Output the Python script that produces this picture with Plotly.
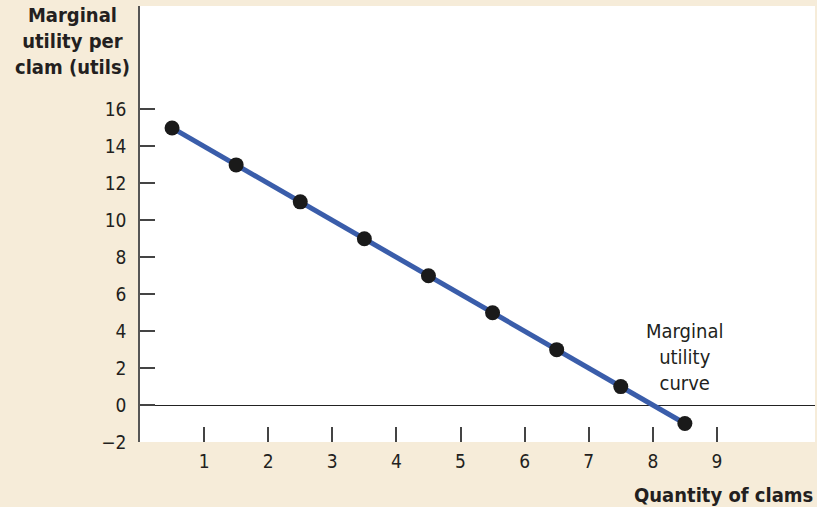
import plotly.graph_objects as go

quantity = [0.5, 1.5, 2.5, 3.5, 4.5, 5.5, 6.5, 7.5, 8.5]
marginal_utility = [15, 13, 11, 9, 7, 5, 3, 1, -1]
x_ticks = [1, 2, 3, 4, 5, 6, 7, 8, 9]
y_ticks = [-2, 0, 2, 4, 6, 8, 10, 12, 14, 16]

FONT = "DejaVu Sans Condensed, DejaVu Sans, sans-serif"
TXT = "#231f20"

fig = go.Figure()
fig.add_trace(go.Scatter(
    x=quantity, y=marginal_utility, mode="lines+markers",
    line=dict(color="#3a5daa", width=5),
    marker=dict(color="#1a1a1a", size=15),
    showlegend=False, cliponaxis=False,
))

fig.add_annotation(x=8.5, y=2.6, text="Marginal<br>utility<br>curve", showarrow=False,
                   font=dict(family=FONT, size=20, color=TXT), align="center")
fig.add_annotation(xref="paper", yref="paper", x=-0.012, y=1.012, xanchor="right", yanchor="top",
                   text="<b>Marginal<br>utility per<br>clam (utils)</b>", showarrow=False,
                   font=dict(family=FONT, size=20, color=TXT), align="center")
fig.add_annotation(xref="paper", yref="paper", x=1.0, y=-0.09, xanchor="right", yanchor="top",
                   text="<b>Quantity of clams</b>", showarrow=False,
                   font=dict(family=FONT, size=20, color=TXT), align="right")

fig.update_layout(
    width=817, height=507,
    margin=dict(l=140, r=2, t=6, b=65),
    paper_bgcolor="#f6ecd9", plot_bgcolor="#ffffff",
    font=dict(family=FONT, size=19, color=TXT),
    xaxis=dict(range=[0, 10.53], tickvals=x_ticks, ticks="inside", ticklen=15,
               tickcolor="#444", tickwidth=1.5, showgrid=False, zeroline=False,
               showline=False, ticklabelstandoff=6),
    yaxis=dict(range=[-2, 21.6], tickvals=y_ticks, ticks="inside", ticklen=15,
               tickcolor="#444", tickwidth=1.5, showgrid=False, zeroline=True,
               zerolinecolor="#222", zerolinewidth=1.2, showline=True,
               linecolor="#555", linewidth=1.5, ticklabelstandoff=8),
)
fig.write_html("out.html", config={"displayModeBar": False},
               post_script="document.body.style.margin='0';")
